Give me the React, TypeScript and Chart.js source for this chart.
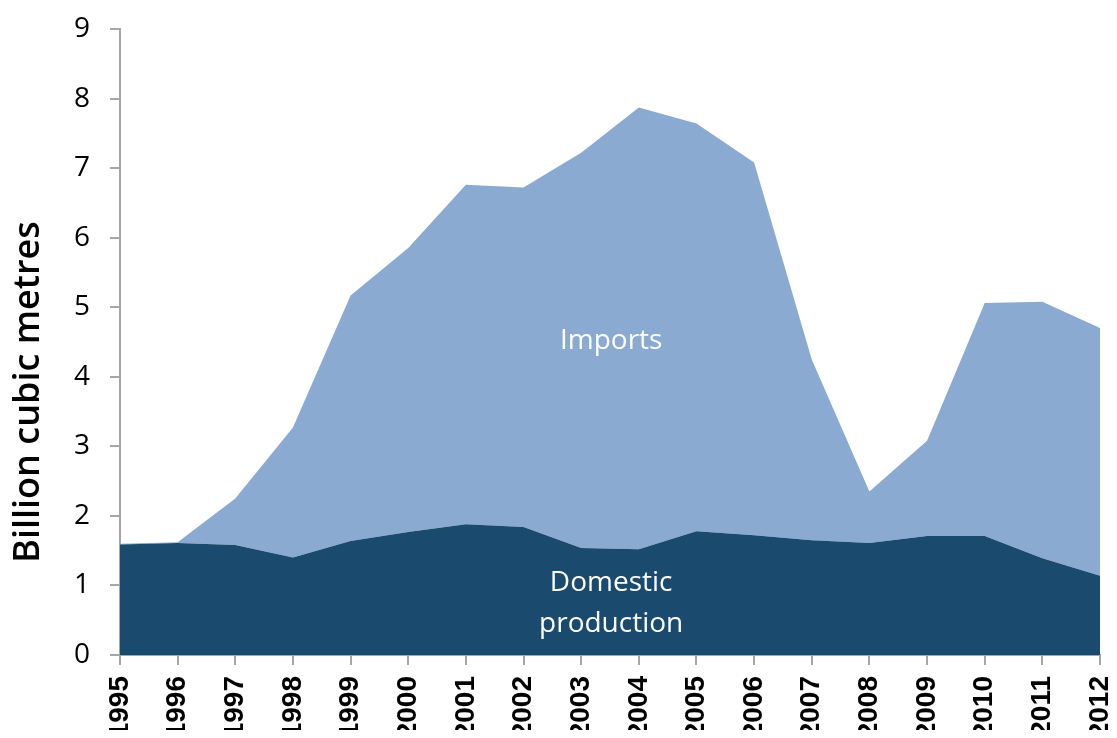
import React, { useEffect, useRef } from "react";
import { Chart, registerables } from "chart.js";

Chart.register(...registerables);

const years = ["1995","1996","1997","1998","1999","2000","2001","2002","2003","2004","2005","2006","2007","2008","2009","2010","2011","2012"];
const domestic = [1.59,1.61,1.58,1.40,1.64,1.77,1.88,1.84,1.54,1.52,1.78,1.72,1.65,1.61,1.71,1.71,1.39,1.14];
const total = [1.60,1.62,2.25,3.27,5.17,5.85,6.76,6.72,7.22,7.87,7.64,7.08,4.25,2.35,3.08,5.06,5.08,4.70];
const imports = total.map((t, i) => Math.max(0, +(t - domestic[i]).toFixed(2)));
const yTicks = [0,1,2,3,4,5,6,7,8,9];

const darkBlue = "#1a4a6e";
const lightBlue = "#8aaad1";
const axisGray = "#a6a6a6";

const overlayPlugin = {
  id: "overlay",
  afterDatasetsDraw(chart: any) {
    const { ctx, scales } = chart;
    const x = scales.x, y = scales.y;
    ctx.save();
    ctx.fillStyle = "#ffffff";
    ctx.textAlign = "center";
    ctx.textBaseline = "middle";
    ctx.font = "28px 'Open Sans'";
    const cx = x.getPixelForValue(8.52);
    ctx.fillText("Imports", cx, y.getPixelForValue(4.51));
    ctx.fillText("Domestic", cx, y.getPixelForValue(1.03));
    ctx.fillText("production", cx, y.getPixelForValue(0.45));
    ctx.restore();
    ctx.save();
    ctx.fillStyle = "#000000";
    ctx.translate(21, 384);
    ctx.rotate(-Math.PI / 2);
    ctx.textAlign = "center";
    ctx.textBaseline = "middle";
    ctx.font = "600 36px 'Open Sans'";
    ctx.fillText("Billion cubic metres", 0, 0);
    ctx.restore();
  },
};

export default function App() {
  const ref = useRef<HTMLCanvasElement>(null);
  useEffect(() => {
    if (!ref.current) return;
    const chart = new Chart(ref.current, {
      type: "line",
      data: {
        labels: years,
        datasets: [
          {
            label: "Domestic production",
            data: domestic,
            backgroundColor: darkBlue,
            borderColor: darkBlue,
            borderWidth: 0,
            pointRadius: 0,
            fill: "origin",
            tension: 0,
          },
          {
            label: "Imports",
            data: imports,
            backgroundColor: lightBlue,
            borderColor: lightBlue,
            borderWidth: 0,
            pointRadius: 0,
            fill: "-1",
            tension: 0,
          },
        ],
      },
      options: {
        animation: false,
        responsive: true,
        maintainAspectRatio: false,
        layout: { padding: { top: 21, right: 14, left: 0, bottom: 0 } },
        plugins: { legend: { display: false }, tooltip: { enabled: false } },
        scales: {
          x: {
            offset: false,
            grid: { display: true, drawOnChartArea: false, drawTicks: true, tickLength: 10, color: axisGray, lineWidth: 2 },
            border: { display: true, color: axisGray, width: 2 },
            ticks: {
              autoSkip: false,
              minRotation: 90,
              maxRotation: 90,
              padding: 11,
              color: "#000000",
              font: { family: "'Liberation Sans', Arial", weight: "bold", size: 28 },
            },
            afterFit(scale: any) {
              scale.height = 75;
              scale.paddingLeft = 0;
              scale.paddingRight = 0;
            },
          },
          y: {
            stacked: true,
            min: 0,
            max: 9,
            afterBuildTicks(scale: any) {
              scale.ticks = yTicks.map((v) => ({ value: v }));
            },
            grid: { display: true, drawOnChartArea: false, drawTicks: true, tickLength: 10, color: axisGray, lineWidth: 2 },
            border: { display: true, color: axisGray, width: 2 },
            ticks: {
              padding: 20,
              color: "#000000",
              font: { family: "'Open Sans'", size: 28 },
            },
            afterFit(scale: any) {
              scale.width = 112;
              scale.paddingTop = 0;
              scale.paddingBottom = 0;
            },
          },
        },
      },
      plugins: [overlayPlugin],
    });
    return () => chart.destroy();
  }, []);
  return (
    <div style={{ width: 1106, height: 722, position: "relative" }}>
      <canvas ref={ref} />
    </div>
  );
}
